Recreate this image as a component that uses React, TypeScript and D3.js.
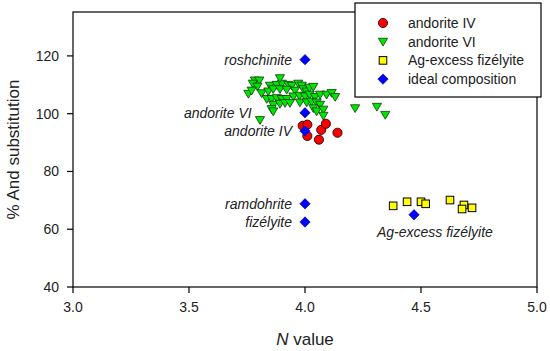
import { useEffect } from 'react'
import * as d3 from 'd3'

const W = 550
const H = 351
const MARGIN = { top: 12, right: 13, bottom: 64, left: 73 }

// andorite IV (red circles)
const andoriteIV: [number, number][] = [
  [3.99, 95.8], [4.01, 96.2], [4.01, 92.3], [4.07, 94.4],
  [4.09, 96.5], [4.06, 91.0], [4.14, 93.4],
]

// andorite VI (green triangles)
const andoriteVI: [number, number][] = [
  [3.784, 111.5], [3.803, 111.5], [3.775, 110.4], [3.795, 109.4], [3.849, 109.7],
  [3.878, 110.0], [3.900, 110.4], [3.928, 110.0], [3.943, 109.7], [3.971, 110.4],
  [3.986, 109.7], [3.756, 106.9], [3.813, 107.1], [3.842, 107.7], [3.863, 108.5],
  [3.892, 108.5], [3.921, 108.3], [3.957, 108.0], [3.993, 108.5], [4.007, 107.7],
  [3.835, 105.1], [3.856, 105.1], [3.878, 105.4], [3.900, 105.1], [3.921, 105.1],
  [3.950, 106.0], [3.976, 106.2], [4.000, 106.0], [4.020, 106.6], [4.043, 105.8],
  [4.065, 106.6], [4.093, 106.6], [4.115, 107.2], [4.130, 105.8], [3.863, 103.1],
  [3.892, 103.4], [3.914, 103.7], [3.935, 103.7], [3.978, 103.9], [4.007, 103.9],
  [4.028, 104.2], [4.050, 103.9], [4.065, 103.1], [4.036, 101.9], [4.050, 100.8],
  [4.079, 101.4], [3.856, 101.6], [3.863, 100.8], [3.806, 97.8], [4.079, 99.3],
  [4.216, 101.9], [4.310, 102.4], [4.346, 99.6], [4.020, 109.0], [4.036, 109.3],
  [3.892, 112.3], [3.770, 108.0],
]

// Ag-excess fizélyite (yellow squares)
const agExcess: [number, number][] = [
  [4.38, 68.1], [4.44, 69.5], [4.50, 69.5], [4.52, 68.8],
  [4.625, 70.1], [4.685, 68.4], [4.677, 67.0], [4.72, 67.4],
]

// ideal composition (blue diamonds)
const idealNames = ['roshchinite', 'andorite VI', 'andorite IV', 'ramdohrite', 'fizélyite', 'Ag-excess fizélyite']
const idealPoints: [number, number][] = [
  [4.0, 118.7], [4.0, 100.3], [4.0, 94.0], [4.0, 68.8], [4.0, 62.5], [4.47, 65.0],
]

const xTicks = [3.0, 3.5, 4.0, 4.5, 5.0]
const yTicks = [40, 60, 80, 100, 120]
const legendLabels = ['andorite IV', 'andorite VI', 'Ag-excess fizélyite', 'ideal composition']

const FONT = '"Liberation Sans", Arial, sans-serif'

function Marker({ kind, x, y }: { kind: number; x: number; y: number }) {
  if (kind === 0) return <circle cx={x} cy={y} r={4.6} fill="#ff0000" stroke="#000" strokeWidth={0.8} />
  if (kind === 1) {
    const s = 4.6
    return (
      <path
        d={`M${x - s},${y - s * 0.75}L${x + s},${y - s * 0.75}L${x},${y + s * 0.95}Z`}
        fill="#00e600" stroke="#0a3a0a" strokeWidth={0.8}
      />
    )
  }
  if (kind === 2) return <rect x={x - 3.8} y={y - 3.8} width={7.6} height={7.6} fill="#ffff00" stroke="#000" strokeWidth={1} />
  const d = 5.2
  return <path d={`M${x},${y - d}L${x + d},${y}L${x},${y + d}L${x - d},${y}Z`} fill="#0000ff" stroke="#000080" strokeWidth={0.6} />
}

export default function App() {
  useEffect(() => {
    document.body.style.margin = '0'
  }, [])

  const x = d3.scaleLinear().domain([3, 5]).range([MARGIN.left, W - MARGIN.right])
  const y = d3.scaleLinear().domain([40, 135.2]).range([H - MARGIN.bottom, MARGIN.top])
  const x0 = x(3), x1 = x(5), y0 = y(40), y1 = y(135.2)

  // labels for ideal compositions: left of the diamond except Ag-excess
  const labelPos = idealPoints.map(([px, py], i) => {
    if (i === 5) return { x: x(4.31), y: y(58.9), anchor: 'start' }
    if (i === 1) return { x: x(3.77), y: y(py), anchor: 'end' }
    return { x: x(px) - 13, y: y(py), anchor: 'end' }
  })

  return (
    <svg width={W} height={H} style={{ display: 'block', background: '#fff' }} fontFamily={FONT}>
      {/* frame */}
      <rect x={x0} y={y1} width={x1 - x0} height={y0 - y1} fill="none" stroke="#000" strokeWidth={1.2} />

      {/* x axis */}
      {xTicks.map(t => (
        <g key={t}>
          <line x1={x(t)} x2={x(t)} y1={y0} y2={y0 + 6} stroke="#000" strokeWidth={1.2} />
          <text x={x(t)} y={y0 + 25} textAnchor="middle" fontSize={14} fill="#222">{t.toFixed(1)}</text>
        </g>
      ))}
      {/* y axis */}
      {yTicks.map(t => (
        <g key={t}>
          <line x1={x0 - 6} x2={x0} y1={y(t)} y2={y(t)} stroke="#000" strokeWidth={1.2} />
          <text x={x0 - 14} y={y(t) + 5} textAnchor="end" fontSize={14} fill="#222">{t}</text>
        </g>
      ))}

      <text x={(x0 + x1) / 2} y={345} textAnchor="middle" fontSize={17} fill="#222">
        <tspan fontStyle="italic">N</tspan> value
      </text>
      <text transform={`translate(19,${(y0 + y1) / 2}) rotate(-90)`} textAnchor="middle" fontSize={17} fill="#222">
        % And substitution
      </text>

      {/* data */}
      {andoriteVI.map(([a, b], i) => <Marker key={'v' + i} kind={1} x={x(a)} y={y(b)} />)}
      {andoriteIV.map(([a, b], i) => <Marker key={'iv' + i} kind={0} x={x(a)} y={y(b)} />)}
      {agExcess.map(([a, b], i) => <Marker key={'ag' + i} kind={2} x={x(a)} y={y(b)} />)}
      {idealPoints.map(([a, b], i) => <Marker key={'id' + i} kind={3} x={x(a)} y={y(b)} />)}

      {idealNames.map((n, i) => (
        <text key={n} x={labelPos[i].x} y={labelPos[i].y + 5} textAnchor={labelPos[i].anchor as any}
          fontSize={14} fontStyle="italic" fill="#222">{n}</text>
      ))}

      {/* legend */}
      <rect x={355} y={3} width={186} height={94} fill="#fff" stroke="#000" strokeWidth={1.2} />
      {legendLabels.map((l, i) => (
        <g key={l}>
          <Marker kind={i} x={383} y={23 + i * 18.7} />
          <text x={408} y={23 + i * 18.7 + 5} fontSize={14} fill="#222">{l}</text>
        </g>
      ))}
    </svg>
  )
}
